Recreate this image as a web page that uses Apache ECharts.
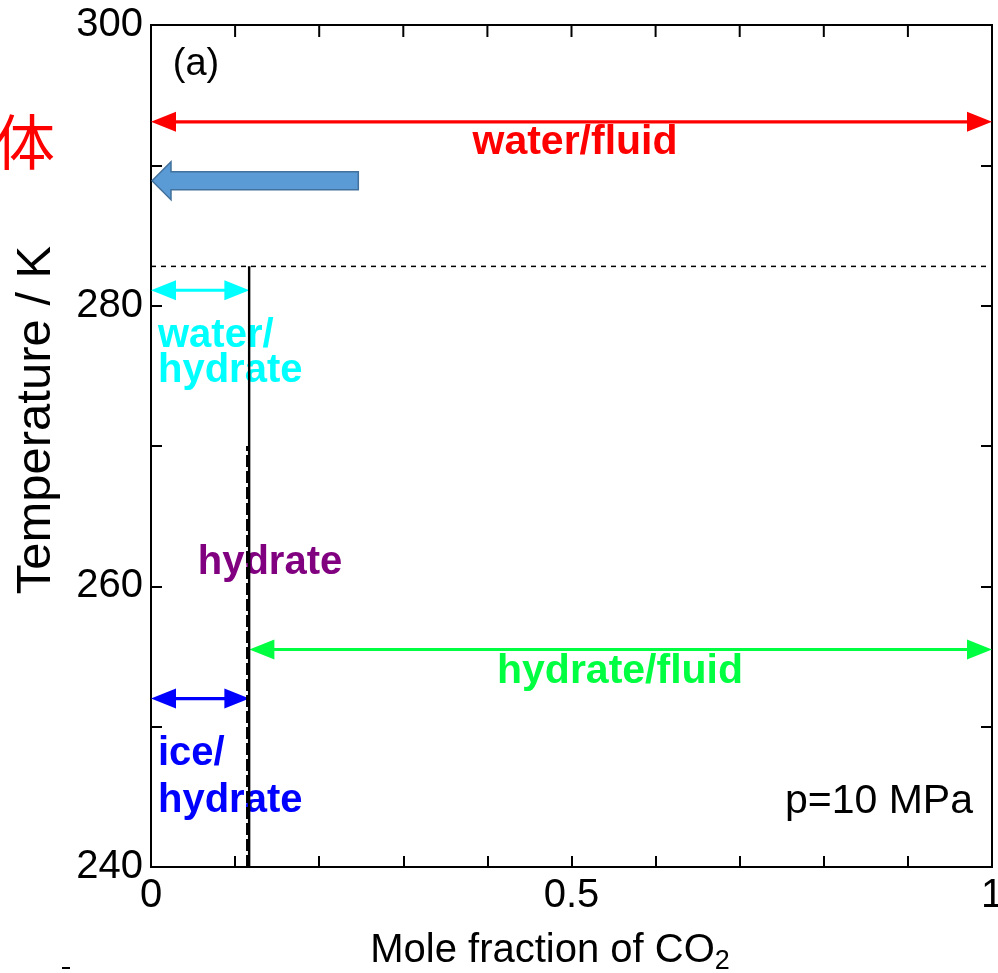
<!DOCTYPE html>
<html>
<head>
<meta charset="utf-8">
<script src="https://cdn.jsdelivr.net/npm/echarts@6/dist/echarts.min.js"></script>
<style>html,body{margin:0;padding:0;background:#fff;}#c{width:998px;height:973px;}</style>
</head>
<body>
<div id="c"></div>
<script>
// ---- data ----
const xTickValues = [0, 0.5, 1];
const xTickLabels = ['0', '0.5', '1'];
const yTickValues = [240, 260, 280, 300];
const yTickLabels = ['240', '260', '280', '300'];
const xTopTicks = [0.1, 0.2, 0.3, 0.4, 0.5, 0.6, 0.7, 0.8, 0.9];

const arrowNames = ['water/fluid', 'water/hydrate', 'hydrate/fluid', 'ice/hydrate'];
const arrowXStart = [0, 0, 0.117, 0];
const arrowXEnd = [1, 0.117, 1, 0.117];
const arrowT = [293.1, 281.1, 255.5, 252.0];

const hydrateX = 0.1167;
const hydrateDashX = 0.1143;
const dissociationT = 282.8;
const tMin = 240;
const tMax = 300;
const dashTop = 270;

const blockArrow = [[0.0, 0.2465, 288.9]]; // tip x, tail x, T

// ---- styles ----
const arrowColors = ['#ff0000', '#00ffff', '#00ff40', '#0000ff'];
const FONT = '"Liberation Sans", Arial, Helvetica, sans-serif';

const chart = echarts.init(document.getElementById('c'), null, {renderer: 'canvas'});

function arrowRender(params, api) {
  const i = params.dataIndex;
  const p1 = api.coord([api.value(0), api.value(2)]);
  const p2 = api.coord([api.value(1), api.value(2)]);
  const c = arrowColors[i];
  const hl = 25, hw = 10;
  const y = p1[1];
  return {
    type: 'group',
    children: [
      {type: 'line', shape: {x1: p1[0] + hl - 2, y1: y, x2: p2[0] - hl + 2, y2: y}, style: {stroke: c, lineWidth: 3.2}},
      {type: 'polygon', shape: {points: [[p1[0], y], [p1[0] + hl, y - hw], [p1[0] + hl, y + hw]]}, style: {fill: c}},
      {type: 'polygon', shape: {points: [[p2[0], y], [p2[0] - hl, y - hw], [p2[0] - hl, y + hw]]}, style: {fill: c}}
    ]
  };
}

function blockRender(params, api) {
  const tip = api.coord([api.value(0), api.value(2)]);
  const tail = api.coord([api.value(1), api.value(2)]);
  const y = tip[1];
  const x0 = tip[0] + 1, hl = 19, sh = 9, hh = 19;
  return {
    type: 'polygon',
    shape: {points: [[x0, y], [x0 + hl, y - hh], [x0 + hl, y - sh], [tail[0], y - sh], [tail[0], y + sh], [x0 + hl, y + sh], [x0 + hl, y + hh]]},
    style: {fill: '#5b9bd5', stroke: '#41719c', lineWidth: 1.5}
  };
}

// top-edge ticks drawn as thin rectangles through the x scale
function topTickRender(params, api) {
  const p = api.coord([api.value(0), api.value(1)]);
  return {type: 'rect', shape: {x: p[0] - 1, y: p[1], width: 2, height: 12}, style: {fill: '#000'}};
}

const tickStyle = {show: true, inside: true, length: 11, lineStyle: {color: '#000', width: 2}};
const lineStyleAxis = {show: true, onZero: false, lineStyle: {color: '#000', width: 2}};

const option = {
  animation: false,
  backgroundColor: '#fff',
  grid: {left: 151, right: 6, top: 25, bottom: 106, outerBoundsMode: 'none', containLabel: false,
         show: true, borderColor: '#000', borderWidth: 2, backgroundColor: 'transparent'},
  xAxis: [
    {
      type: 'value', min: 0, max: 1, interval: 0.1, position: 'bottom',
      axisLine: lineStyleAxis, axisTick: tickStyle, splitLine: {show: false},
      axisLabel: {
        color: '#000', fontSize: 40, fontFamily: FONT, margin: 9,
        formatter: function (v) {
          for (let k = 0; k < xTickValues.length; k++) if (Math.abs(v - xTickValues[k]) < 1e-6) return xTickLabels[k];
          return '';
        }
      }
    }
  ],
  yAxis: [
    {
      type: 'value', min: 240, max: 300, interval: 10, position: 'left',
      axisLine: lineStyleAxis, axisTick: tickStyle, splitLine: {show: false},
      axisLabel: {
        color: '#000', fontSize: 40, fontFamily: FONT, margin: 8,
        formatter: function (v) {
          const k = yTickValues.indexOf(Math.round(v));
          return k >= 0 ? yTickLabels[k] : '';
        }
      }
    },
    {
      type: 'value', min: 240, max: 300, interval: 10, position: 'right',
      axisLine: lineStyleAxis, axisTick: tickStyle, splitLine: {show: false}, axisLabel: {show: false}
    }
  ],
  series: [
    {
      type: 'line', name: 'dissociation', symbol: 'none', silent: true,
      data: [[0, dissociationT], [1, dissociationT]],
      lineStyle: {color: '#000', width: 1.5, type: [5, 5]}
    },
    {
      type: 'line', name: 'hydrate', symbol: 'none', silent: true,
      data: [[hydrateX, tMin], [hydrateX, dissociationT]],
      lineStyle: {color: '#000', width: 2.4}
    },
    {
      type: 'line', name: 'hydrate2', symbol: 'none', silent: true,
      data: [[hydrateDashX, tMin], [hydrateDashX, dashTop]],
      lineStyle: {color: '#000', width: 2.2, type: [12, 4]}
    },
    {
      type: 'custom', name: 'arrows', renderItem: arrowRender, silent: true,
      data: arrowNames.map((n, i) => [arrowXStart[i], arrowXEnd[i], arrowT[i]])
    },
    {
      type: 'custom', name: 'block', renderItem: blockRender, silent: true,
      data: blockArrow
    },
    {
      type: 'custom', name: 'topTicks', renderItem: topTickRender, silent: true, clip: false, z: 10,
      data: xTopTicks.map(v => [v, tMax, 0])
    }
  ],
  graphic: [
    {type: 'text', x: 196, y: 65, style: {text: '(a)', font: '38px ' + FONT, fill: '#000', align: 'center', verticalAlign: 'middle'}},
    {type: 'text', x: 575, y: 143, style: {text: 'water/fluid', font: 'bold 41px ' + FONT, fill: '#ff0000', align: 'center', verticalAlign: 'middle'}},
    {type: 'text', x: 158, y: 336, style: {text: 'water/', font: 'bold 40px ' + FONT, fill: '#00ffff', align: 'left', verticalAlign: 'middle'}},
    {type: 'text', x: 158, y: 371, style: {text: 'hydrate', font: 'bold 40px ' + FONT, fill: '#00ffff', align: 'left', verticalAlign: 'middle'}},
    {type: 'text', x: 270, y: 563, style: {text: 'hydrate', font: 'bold 40px ' + FONT, fill: '#800080', align: 'center', verticalAlign: 'middle'}},
    {type: 'text', x: 620, y: 672, style: {text: 'hydrate/fluid', font: 'bold 41px ' + FONT, fill: '#00ff40', align: 'center', verticalAlign: 'middle'}},
    {type: 'text', x: 158, y: 754, style: {text: 'ice/', font: 'bold 40px ' + FONT, fill: '#0000ff', align: 'left', verticalAlign: 'middle'}},
    {type: 'text', x: 158, y: 801, style: {text: 'hydrate', font: 'bold 40px ' + FONT, fill: '#0000ff', align: 'left', verticalAlign: 'middle'}},
    {type: 'text', x: 973, y: 802, style: {text: 'p=10 MPa', font: '41px ' + FONT, fill: '#000', align: 'right', verticalAlign: 'middle'}},
    {type: 'text', x: 25, y: 142, style: {text: '体', font: '60px "Noto Sans CJK SC", "Noto Sans CJK JP", sans-serif', fill: '#ff0000', align: 'center', verticalAlign: 'middle'}},
    {type: 'text', x: 36, y: 420, rotation: Math.PI / 2, style: {text: 'Temperature / K', font: '49px ' + FONT, fill: '#000', align: 'center', verticalAlign: 'middle'}},
    {type: 'text', x: 550, y: 951, style: {
      text: '{a|Mole fraction of CO}{s|2}', align: 'center', verticalAlign: 'middle',
      rich: {
        a: {font: '40px ' + FONT, fill: '#000', verticalAlign: 'middle'},
        s: {font: '27px ' + FONT, fill: '#000', padding: [22, 0, 0, 0]}
      }
    }},
    {type: 'line', shape: {x1: 62, y1: 968, x2: 70, y2: 968}, style: {stroke: '#000', lineWidth: 2}}
  ]
};
chart.setOption(option);
</script>
</body>
</html>
